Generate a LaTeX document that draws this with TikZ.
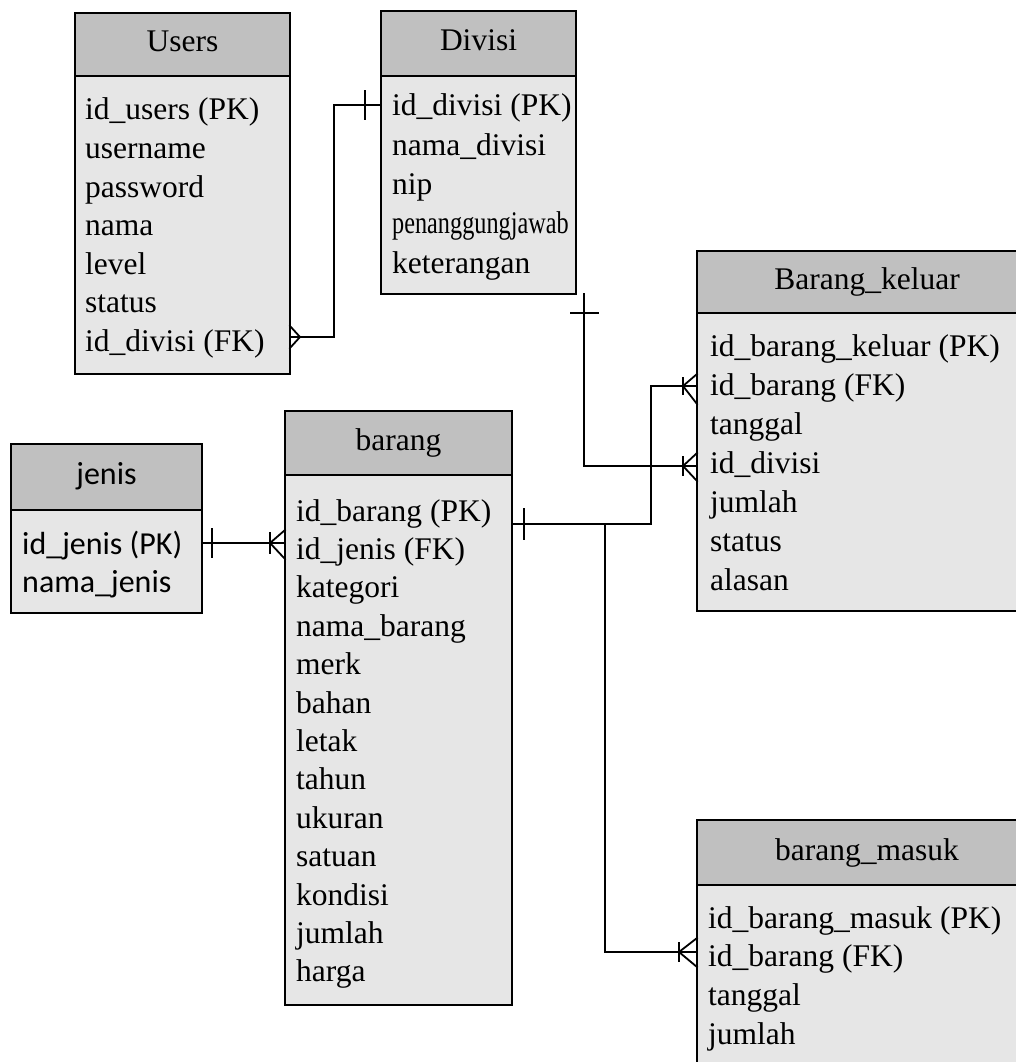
\documentclass[tikz,border=0pt]{standalone}
\usepackage{fontspec}
\setmainfont{Liberation Serif}
\newfontfamily\calib{Carlito}
\newfontfamily\narrowserif[FakeStretch=0.77]{Liberation Serif}
\definecolor{hdr}{HTML}{C0C0C0}
\definecolor{bdy}{HTML}{E6E6E6}
\begin{document}
\begin{tikzpicture}[x=1pt,y=-1pt,
  box/.style={draw, line width=2pt, anchor=north west, inner sep=0pt, outer sep=0pt},
  hdrbox/.style={box, fill=hdr, font=\fontsize{31.5}{38}\selectfont, text height=21pt, text depth=6pt},
  bdybox/.style={box, fill=bdy},
  row/.style={anchor=base west, inner sep=0pt, font=\fontsize{31.5}{38}\selectfont},
  srow/.style={row, font=\calib\fontsize{32}{38}\selectfont},
  conn/.style={line width=1.8pt, line cap=rect}]
\useasboundingbox (0,0) rectangle (1015,1062);

% Users
\node[hdrbox, minimum width=215pt, minimum height=63pt] (uH) at (75,13) {Users};
\node[bdybox, minimum width=215pt, minimum height=298pt] (uB) at (75,76) {};
\foreach \t [count=\k from 0] in {id\_users (PK),username,password,nama,level,status,id\_divisi (FK)}
  \node[row] (u\k) at (85,120+38.5*\k) {\t};

% Divisi
\node[hdrbox, minimum width=195pt, minimum height=65pt] (dH) at (381,11) {Divisi};
\node[bdybox, minimum width=195pt, minimum height=218pt] (dB) at (381,76) {};
\foreach \t [count=\k from 0] in {id\_divisi (PK),nama\_divisi,nip,{\narrowserif penanggungjawab},keterangan}
  \node[row] (d\k) at (392,116+39.3*\k) {\t};

% Barang_keluar
\node[bdybox, minimum width=340pt, minimum height=298pt] (kB) at (697,313) {};
\node[hdrbox, minimum width=340pt, minimum height=62pt, text width=318pt, align=center] (kH) at (697,251) {Barang\_keluar};
\foreach \t [count=\k from 0] in {id\_barang\_keluar (PK),id\_barang (FK),tanggal,id\_divisi,jumlah,status,alasan}
  \node[row] (k\k) at (710,356+39*\k) {\t};

% barang
\node[hdrbox, minimum width=227pt, minimum height=64pt] (bH) at (285,411) {barang};
\node[bdybox, minimum width=227pt, minimum height=530pt] (bB) at (285,475) {};
\foreach \t [count=\k from 0] in {id\_barang (PK),id\_jenis (FK),kategori,nama\_barang,merk,bahan,letak,tahun,ukuran,satuan,kondisi,jumlah,harga}
  \node[row] (b\k) at (296,521+38.4*\k) {\t};

% jenis
\node[hdrbox, font=\calib\fontsize{32}{38}\selectfont, minimum width=191pt, minimum height=66pt] (jH) at (11,444) {jenis};
\node[bdybox, minimum width=191pt, minimum height=103pt] (jB) at (11,510) {};
\node[srow] (j0) at (22,554) {id\_jenis (PK)};
\node[srow] (j1) at (22,592) {nama\_jenis};

% barang_masuk
\node[bdybox, minimum width=340pt, minimum height=220pt] (mB) at (697,885) {};
\node[hdrbox, minimum width=340pt, minimum height=65pt, text width=318pt, align=center] (mH) at (697,820) {barang\_masuk};
\foreach \t [count=\k from 0] in {id\_barang\_masuk (PK),id\_barang (FK),tanggal,jumlah}
  \node[row] (m\k) at (708,928+38.7*\k) {\t};

% Users -- Divisi
\draw[conn] ([yshift=-261pt]uB.north east) coordinate (c1a) -- ++(44,0) |- ([yshift=-29pt]dB.north west) coordinate (c1b);
\draw[conn] (c1a) ++(0,-11) -- ++(10,11) -- ++(-10,11);
\draw[conn] (c1b) ++(-16,-14) -- ++(0,28);

% Divisi -- Barang_keluar
\draw[conn] ([xshift=203pt]dB.south west) coordinate (c2a) |- ([yshift=-153pt]kB.north west) coordinate (c2b);
\draw[conn] (c2a) ++(-13,19) -- ++(27,0);
\draw[conn] (c2b) ++(0,-13) -- ++(-14,13) -- ++(14,15);
\draw[conn] (c2b) ++(-14,-9) -- ++(0,18);

% barang -- Barang_keluar
\draw[conn] ([yshift=-49pt]bB.north east) coordinate (c3a) -- ++(139,0) |- ([yshift=-73pt]kB.north west) coordinate (c3b);
\draw[conn] (c3a) ++(12,-15) -- ++(0,30);
\draw[conn] (c3b) ++(0,-12) -- ++(-14,12) -- ++(14,18);
\draw[conn] (c3b) ++(-14,-8) -- ++(0,16);

% barang -- barang_masuk
\draw[conn] (c3a) ++(93,0) coordinate (c4j) |- ([yshift=-67pt]mB.north west) coordinate (c4b);
\draw[conn] (c4b) ++(0,-14) -- ++(-18,14) -- ++(18,15);
\draw[conn] (c4b) ++(-18,-9) -- ++(0,18);

% jenis -- barang
\draw[conn] ([yshift=-33pt]jB.north east) coordinate (c5a) -- ([yshift=-68pt]bB.north west) coordinate (c5b);
\draw[conn] (c5a) ++(10,-14) -- ++(0,28);
\draw[conn] (c5b) ++(0,-13) -- ++(-15,13) -- ++(15,16);
\draw[conn] (c5b) ++(-15,-10) -- ++(0,20);
\end{tikzpicture}
\end{document}
